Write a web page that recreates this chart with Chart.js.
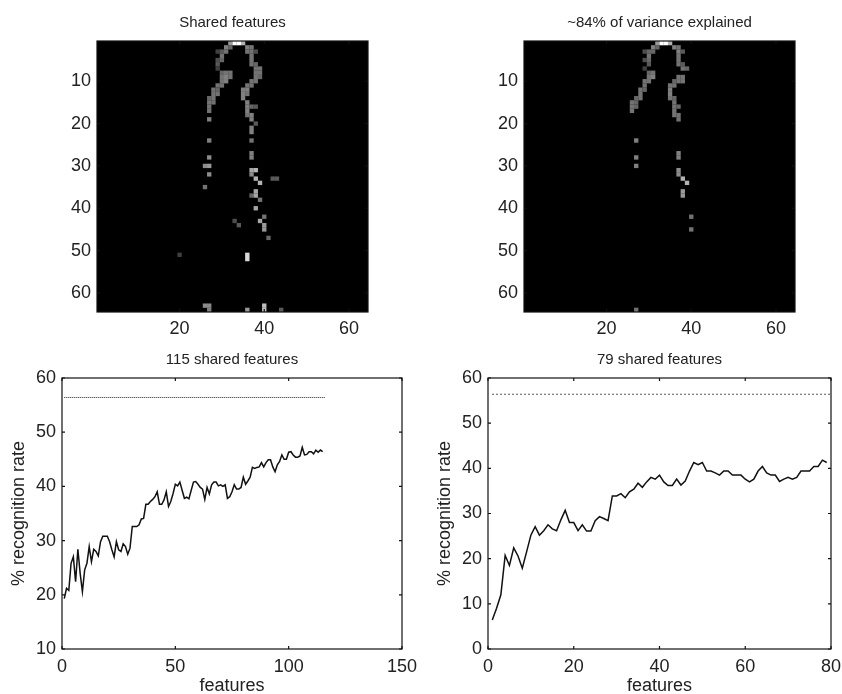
<!DOCTYPE html>
<html>
<head>
<meta charset="utf-8">
<script src="https://cdn.jsdelivr.net/npm/chart.js@4"></script>
<style>
  html, body { margin: 0; padding: 0; background: #fff; overflow: hidden; }
  canvas { position: absolute; }
</style>
</head>
<body>
<canvas id="sharedImage"></canvas>
<canvas id="varianceImage"></canvas>
<canvas id="sharedCurve"></canvas>
<canvas id="varianceCurve"></canvas>
<script>
// [row, col, grey level] of every lit cell, the rest of the 64x64 image is black
var sharedCells = [
  [1,32,.6],[1,33,1],[1,34,1],[1,35,.7],
  [2,31,.5],[2,32,.4],[2,36,.5],[2,37,.45],
  [3,29,.25],[3,30,.35],[3,31,.45],[3,36,.45],[3,37,.45],[3,38,.3],
  [4,30,.45],[4,37,.45],
  [5,29,.3],[5,30,.4],[5,37,.45],
  [6,29,.35],[6,37,.45],[6,38,.4],
  [7,29,.25],[7,38,.45],[7,39,.45],
  [8,30,.4],[8,31,.45],[8,32,.45],[8,38,.45],[8,39,.45],
  [9,30,.45],[9,31,.5],[9,32,.45],[9,38,.45],[9,39,.4],
  [10,30,.45],[10,31,.5],[10,37,.45],[10,38,.45],
  [11,29,.45],[11,30,.45],[11,36,.45],[11,37,.45],
  [12,28,.45],[12,29,.4],[12,35,.5],[12,36,.5],
  [13,28,.45],[13,29,.45],[13,35,.5],[13,36,.45],
  [14,27,.4],[14,28,.45],[14,35,.5],
  [15,27,.45],[15,28,.45],[15,36,.5],
  [16,27,.45],[16,36,.5],[16,37,.4],[16,38,.35],
  [17,27,.45],[17,36,.5],
  [18,36,.45],[18,37,.5],
  [19,27,.5],[19,37,.5],
  [20,38,.35],
  [21,37,.5],[22,37,.5],
  [24,27,.5],[24,37,.45],
  [27,37,.5],[28,27,.55],[28,37,.5],
  [30,26,.55],[30,27,.6],
  [31,37,.65],[31,38,.7],
  [32,27,.55],[32,37,.55],
  [33,38,.7],[33,42,.35],[33,43,.35],
  [34,39,.7],[35,26,.45],
  [36,38,.65],[37,37,.4],[37,38,.65],[38,39,.45],
  [40,38,.65],[42,40,.45],
  [43,33,.3],[43,39,.65],
  [44,34,.35],[44,40,.6],[45,40,.6],
  [47,41,.4],
  [51,20,.25],[51,36,.85],[52,36,.85],
  [63,26,.55],[63,27,.55],[63,40,.75],
  [64,27,.5],[64,36,.6],[64,40,.75],[64,44,.35]
];
var varianceCells = [
  [1,32,.6],[1,33,1],[1,34,1],[1,35,.7],
  [2,31,.5],[2,32,.4],[2,36,.5],[2,37,.45],
  [3,29,.3],[3,30,.4],[3,31,.4],[3,37,.5],[3,38,.35],
  [4,30,.45],[4,37,.45],
  [5,29,.3],[5,30,.4],[5,37,.45],
  [6,30,.35],[6,37,.45],[6,38,.35],
  [7,29,.25],[7,38,.45],[7,39,.4],
  [8,30,.4],[8,31,.45],
  [9,30,.45],[9,31,.5],[9,37,.45],[9,38,.45],
  [10,29,.45],[10,30,.45],[10,36,.4],[10,37,.45],[10,38,.45],
  [11,29,.45],[11,35,.45],[11,36,.45],
  [12,28,.45],[12,29,.4],[12,35,.5],
  [13,28,.45],[13,35,.5],
  [14,27,.4],[14,28,.45],[14,35,.45],[14,36,.4],
  [15,26,.45],[15,27,.4],[15,36,.45],
  [16,26,.45],[16,27,.4],[16,36,.45],[16,37,.4],
  [17,26,.45],[17,36,.45],
  [18,36,.45],[18,37,.45],
  [19,37,.45],
  [24,27,.5],
  [27,37,.5],[28,27,.5],[28,37,.5],
  [30,27,.5],
  [31,37,.55],[32,37,.55],
  [33,38,.7],[34,39,.7],
  [36,38,.6],[37,38,.6],
  [42,40,.45],[45,40,.45],
  [64,27,.45]
];
var imageXTicks = [20, 40, 60];
var imageYTicks = [10, 20, 30, 40, 50, 60];

// recognition rate (%) for 1..N features
var sharedRates = [
  19.3,21.2,20.8,25.8,27,22.4,28.4,24,20.6,24.6,25.8,28.9,26.1,28.4,28,27.2,29.8,30.8,30.8,30.8,
  29.8,28.3,27,29.8,28.3,28,29.4,28.9,27.5,28.6,32.6,32.6,32.6,32.9,34,34.1,36.7,36.7,37.2,37.6,
  38.1,39,36.7,36.7,37.5,39,36.3,37.2,38.7,40.4,40.1,40.8,39.3,37.8,38,37.7,39.3,40.8,40.9,40.4,
  39.8,39.5,37.6,39.8,38.6,40.3,40.8,40.8,40.1,40.3,40,40.3,37.8,38.1,39,40.3,39.5,39.5,39.8,41.7,
  40.4,41,41.7,43.5,43.3,43.5,43.6,44.4,43.6,44.4,44.9,44.9,43.6,42.7,44,44.6,45.8,45,45,46.3,
  46.4,45.8,45.4,45.4,45.6,47.2,45.8,45.9,46.4,46.4,46,46.7,46.3,46.7,46.4
];
var varianceRates = [
  6.4,9,12,20.7,18.5,22.4,20.6,17.9,21.5,25.2,27.1,25.2,26.2,27.5,26.6,26.2,28.6,30.7,28,28,
  26.2,27.5,26.1,26.1,28.4,29.3,28.9,28.4,33.9,33.9,34.4,33.5,34.8,35.4,36.7,35.8,37,38,37.6,38.5,
  37,36.2,36.2,37.6,36.3,37.2,39.4,41.3,40.8,41.3,39.4,39.4,39,38.5,39.4,39.4,38.5,38.5,38.5,37.6,
  37,37.6,39.4,40.4,39,38.5,38.5,37.1,37.6,38,37.6,38,39.4,39.4,39.4,40.4,40.4,41.8,41.3
];
var allFeaturesRate = 56.4;
var sharedXTicks = [0, 50, 100, 150];
var sharedYTicks = [10, 20, 30, 40, 50, 60];
var varianceXTicks = [0, 20, 40, 60, 80];
var varianceYTicks = [0, 10, 20, 30, 40, 50, 60];

var fontFamily = '"Liberation Sans", Arial, sans-serif';
var AXIS_W = 54, AXIS_H = 46, TITLE_H = 26, PAD_R = 20;

// black frame with little inward ticks on all four sides, matlab style
var boxPlugin = {
  id: 'box',
  beforeDatasetsDraw: function(chart, args, opts) {
    var a = chart.chartArea, c = chart.ctx;
    if (opts.fill) {
      c.save();
      c.fillStyle = opts.fill;
      c.fillRect(a.left, a.top, a.right - a.left, a.bottom - a.top);
      c.restore();
    }
  },
  afterDatasetsDraw: function(chart) {
    var a = chart.chartArea, c = chart.ctx, len = 3;
    c.save();
    c.strokeStyle = '#111';
    c.lineWidth = 1.2;
    c.strokeRect(a.left, a.top, a.right - a.left, a.bottom - a.top);
    c.beginPath();
    chart.scales.x.ticks.forEach(function(t) {
      var px = chart.scales.x.getPixelForValue(t.value);
      c.moveTo(px, a.top); c.lineTo(px, a.top + len);
      c.moveTo(px, a.bottom); c.lineTo(px, a.bottom - len);
    });
    chart.scales.y.ticks.forEach(function(t) {
      var py = chart.scales.y.getPixelForValue(t.value);
      c.moveTo(a.left, py); c.lineTo(a.left + len, py);
      c.moveTo(a.right, py); c.lineTo(a.right - len, py);
    });
    c.stroke();
    c.restore();
  }
};

function place(id, left, top, right, bottom) {
  // left/top/right/bottom are the plot area on the page
  var el = document.getElementById(id);
  el.style.left = (left - AXIS_W) + 'px';
  el.style.top = (top - TITLE_H) + 'px';
  el.width = right - left + AXIS_W + PAD_R;
  el.height = bottom - top + TITLE_H + AXIS_H;
  return el;
}

function scaleOpts(min, max, ticks, pad, reverse) {
  return {
    type: 'linear', min: min, max: max, reverse: !!reverse,
    grid: { display: false, drawTicks: false }, border: { display: false },
    afterBuildTicks: function(s) { s.ticks = ticks.map(function(v) { return { value: v }; }); },
    ticks: { color: '#222', font: { family: fontFamily, size: 18 }, maxRotation: 0, padding: pad }
  };
}

function baseOptions(title, x, y) {
  // fix the axis boxes and drop the label overhang so the plot area lands where it should
  x.afterFit = function(s) { s.height = AXIS_H; s.paddingLeft = 0; s.paddingRight = 0; };
  y.afterFit = function(s) { s.width = AXIS_W; s.paddingTop = 0; s.paddingBottom = 0; };
  return {
    responsive: false, animation: false,
    layout: { padding: { right: PAD_R } },
    scales: { x: x, y: y },
    plugins: {
      legend: { display: false }, tooltip: { enabled: false },
      // fullSize off so the title centres over the plot, not the canvas
      title: { display: true, fullSize: false, text: title, color: '#222', padding: { top: 0, bottom: 11 },
               font: { family: fontFamily, size: 15, weight: 'normal', lineHeight: 1 } },
      box: {}
    }
  };
}

function imageChart(id, left, title, cells) {
  var el = place(id, left, 41, left + 271, 312);
  var opts = baseOptions(title, scaleOpts(0.5, 64.5, imageXTicks, 6), scaleOpts(0.5, 64.5, imageYTicks, 6, true));
  opts.plugins.box.fill = '#000';
  return new Chart(el, {
    type: 'scatter',
    data: { datasets: [{
      data: cells.map(function(c) { return { x: c[1], y: c[0] }; }),
      pointStyle: 'rect',
      borderWidth: 0,
      // rect point style is inscribed in the radius, so scale by sqrt 2
      pointRadius: function(ctx) { return ctx.chart.scales.x.width / 64 / 2 * Math.SQRT2 * 1.03; },
      backgroundColor: cells.map(function(c) {
        var g = Math.round(c[2] * 255);
        return 'rgb(' + g + ',' + g + ',' + g + ')';
      })
    }] },
    options: opts,
    plugins: [boxPlugin]
  });
}

function curveChart(id, left, right, title, rates, xMin, xMax, xTicks, yMin, yTicks, dotEnd, dash) {
  var el = place(id, left, 378, right, 649);
  var x = scaleOpts(xMin, xMax, xTicks, 7), y = scaleOpts(yMin, 60, yTicks, 6);
  x.title = { display: true, text: 'features', color: '#222', padding: { top: 0, bottom: 0 },
              font: { family: fontFamily, size: 18, lineHeight: 1 } };
  y.title = { display: true, text: '% recognition rate', color: '#222', padding: { top: 2, bottom: 0 },
              font: { family: fontFamily, size: 18, lineHeight: 1 } };
  return new Chart(el, {
    type: 'scatter',
    data: { datasets: [
      { data: rates.map(function(v, i) { return { x: i + 1, y: v }; }),
        showLine: true, pointRadius: 0, borderColor: '#111', borderWidth: 1.5 },
      { data: [{ x: 1, y: allFeaturesRate }, { x: dotEnd, y: allFeaturesRate }],
        showLine: true, pointRadius: 0, borderColor: '#222', borderWidth: 1, borderDash: dash }
    ] },
    options: baseOptions(title, x, y),
    plugins: [boxPlugin]
  });
}

imageChart('sharedImage', 97, 'Shared features', sharedCells);
imageChart('varianceImage', 524, '~84% of variance explained', varianceCells);
curveChart('sharedCurve', 62, 402, '115 shared features', sharedRates, 0, 150, sharedXTicks, 10, sharedYTicks, 116, [1, 1]);
curveChart('varianceCurve', 488, 831, '79 shared features', varianceRates, 0, 80, varianceXTicks, 0, varianceYTicks, 80, [1.5, 2.5]);
</script>
</body>
</html>
